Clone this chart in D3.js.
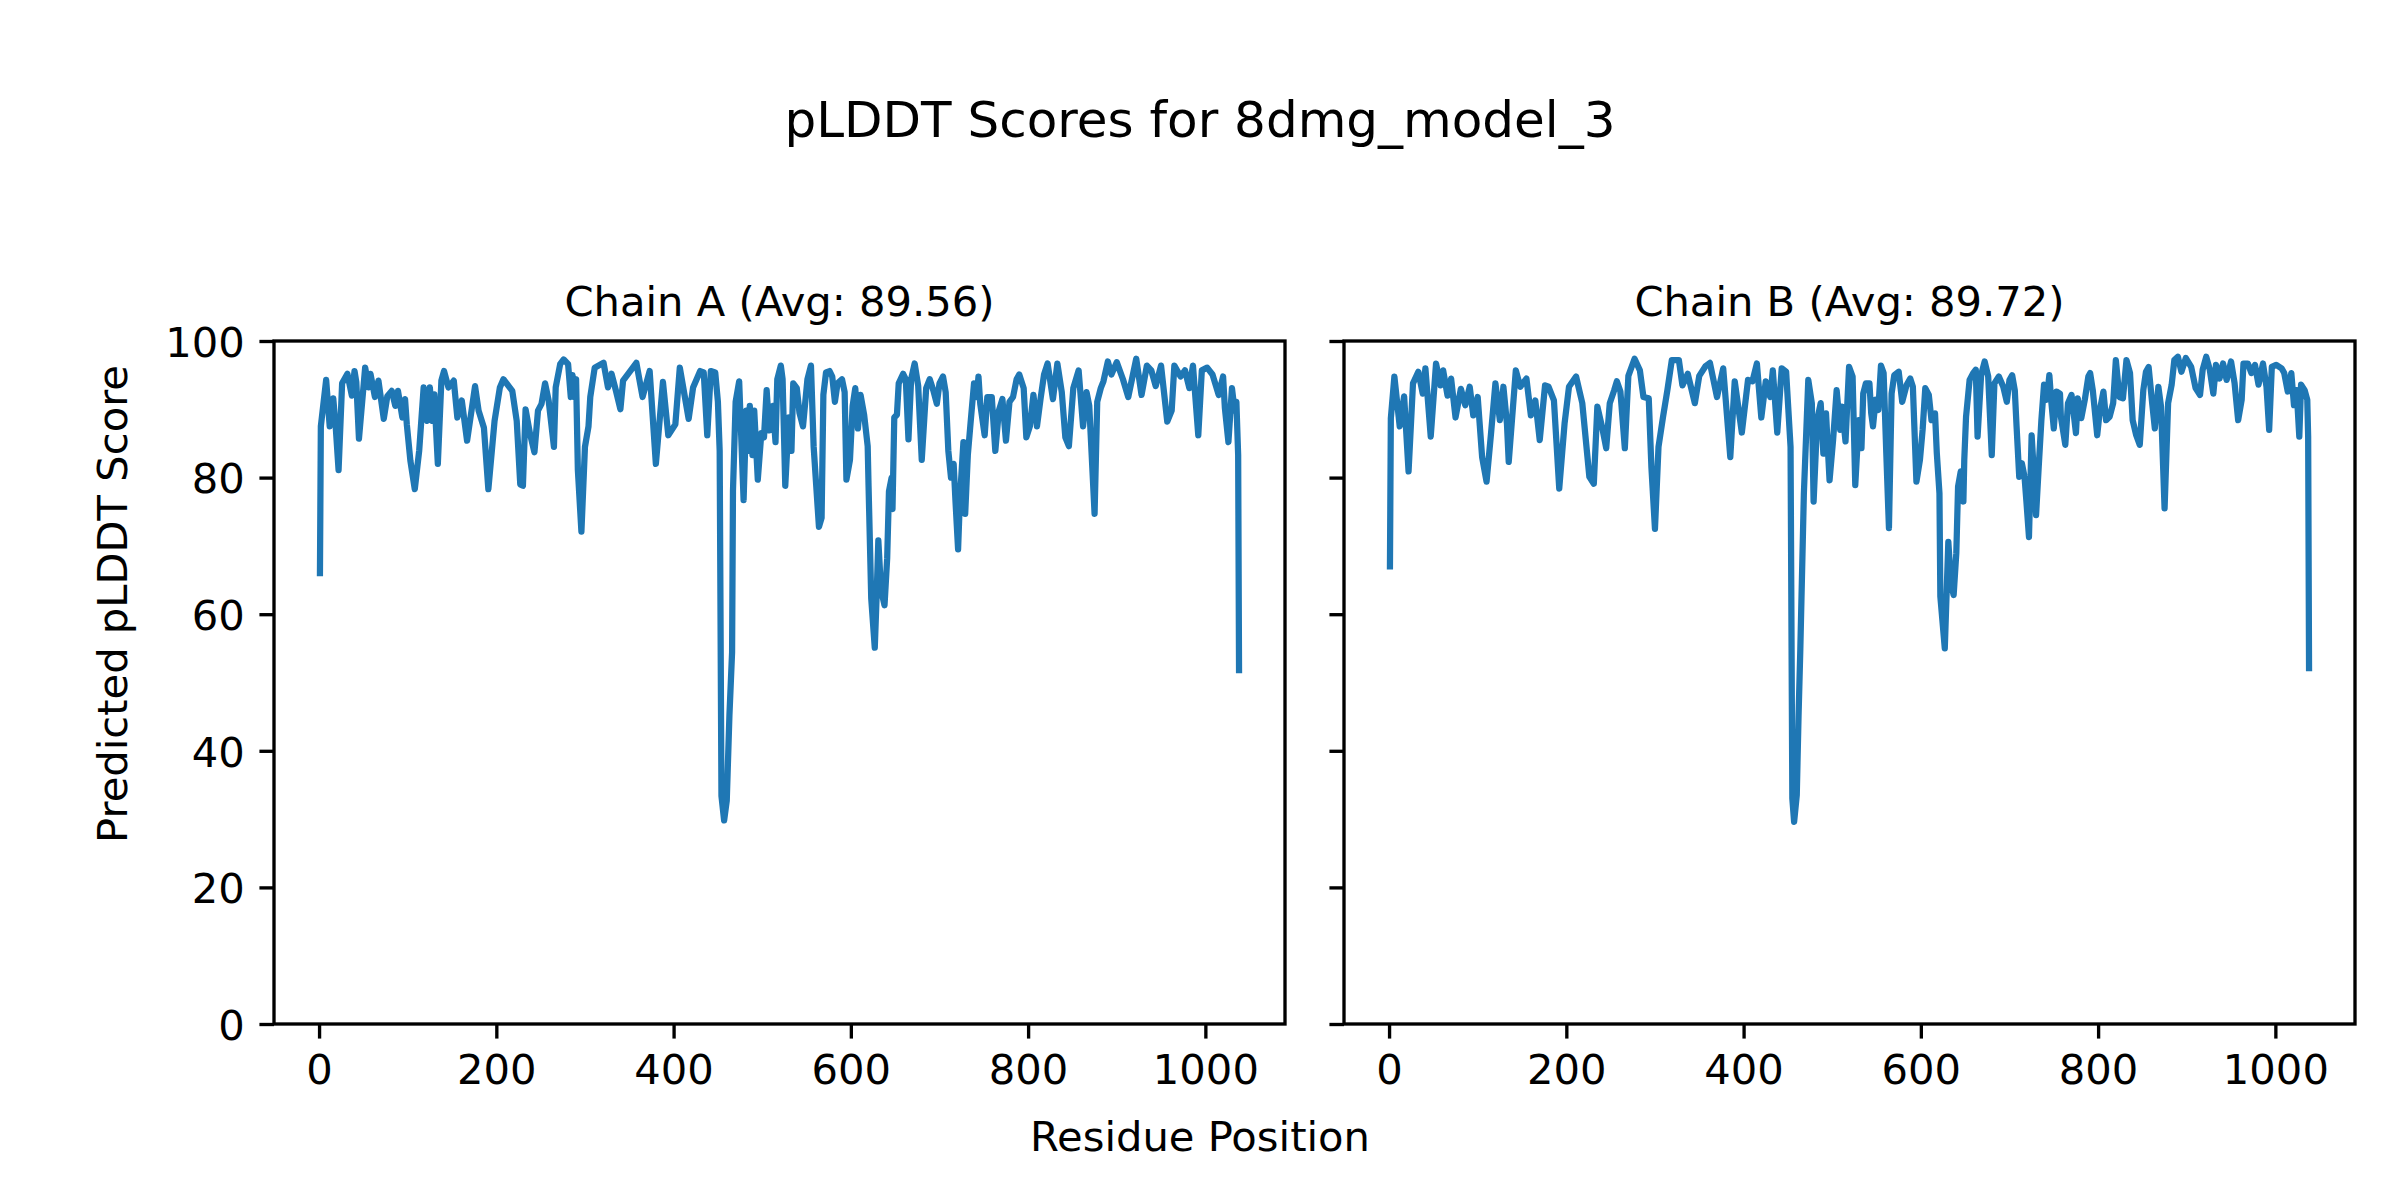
<!DOCTYPE html>
<html>
<head>
<meta charset="utf-8">
<script src="https://cdn.jsdelivr.net/npm/d3@7"></script>
<style>
  html, body { margin: 0; padding: 0; background: #fff; }
  svg { display: block; }
  text { font-family: "DejaVu Sans", sans-serif; fill: #000; }
</style>
</head>
<body>
<svg id="chart" width="2400" height="1200"></svg>
<script>
"use strict";

// residue positions / pLDDT
const posA = [1,2,8,12,16,19,22,26,32,37,40,42,45,52,56,58,63,67,73,77,82,86,89,94,97,99,103,108,113,118,122,125,128,130,134,138,141,146,152,156,161,167,172,176,180,186,191,198,204,208,218,223,227,230,233,238,243,247,251,255,259,265,267,272,276,281,284,286,288,290,292,296,300,304,306,311,321,326,330,335,340,343,350,358,365,373,380,388,394,402,407,417,422,430,434,438,442,447,450,452,454,457,460,463,466,467,470,474,479,482,484,486,489,491,495,499,502,505,508,512,515,517,521,523,526,530,533,535,539,542,546,551,555,558,564,567,569,572,576,579,582,585,590,593,595,599,602,605,608,611,615,619,620,623,627,629,631,634,638,641,643,646,647,649,652,654,659,662,665,668,672,676,680,685,689,693,697,700,704,707,710,713,716,718,721,723,727,729,732,735,739,742,744,746,751,754,759,763,767,771,775,779,783,787,790,795,798,802,806,810,814,818,822,828,833,838,842,846,851,857,862,866,869,875,878,882,885,890,894,900,907,913,922,928,934,939,944,950,957,962,965,972,977,982,986,992,996,1002,1008,1015,1020,1022,1026,1030,1033,1035,1037,1038];
const scoreA = [66.0,87.5,94.3,87.5,91.6,87.0,81.1,93.8,95.2,92.0,95.6,94.0,85.7,96.1,93.2,95.2,91.8,94.2,88.6,91.9,92.7,90.5,92.7,88.8,91.5,87.8,82.5,78.3,84.0,93.2,88.3,93.2,88.3,92.2,82.0,94.2,95.6,93.2,94.2,88.8,91.3,85.4,89.8,93.4,89.8,87.3,78.3,88.3,93.2,94.4,92.7,88.3,79.0,78.8,90.0,86.4,83.7,89.8,90.8,93.8,91.3,84.5,93.2,96.6,97.3,96.6,91.8,95.0,91.8,94.4,81.1,72.1,84.5,87.5,91.8,96.1,96.8,93.2,95.2,92.7,90.0,94.2,95.4,96.8,91.8,95.6,82.0,94.0,86.2,87.8,96.1,88.6,93.2,95.6,95.4,86.2,95.6,95.4,91.1,83.9,33.4,29.8,32.7,45.2,54.4,78.0,91.1,94.1,76.7,89.8,83.9,90.5,83.3,89.8,79.7,86.5,85.9,92.8,86.9,90.5,85.2,94.4,96.4,94.4,78.8,88.8,83.9,93.8,93.1,89.5,87.5,94.4,96.4,84.6,72.8,74.1,92.1,95.4,95.6,94.8,91.1,93.8,94.4,92.5,79.7,82.6,90.5,93.1,87.2,92.1,89.2,84.6,78.7,62.3,55.1,62.3,70.8,63.6,61.3,68.2,78.0,80.0,75.4,88.8,89.2,93.8,95.2,94.4,85.6,94.4,96.7,93.4,82.6,93.1,94.4,92.8,90.8,93.8,94.8,92.5,83.9,80.0,82.0,76.7,69.5,76.7,85.2,74.7,83.3,87.9,93.8,91.8,94.8,90.8,86.2,91.8,91.8,83.9,89.8,91.5,85.4,91.1,91.8,94.4,95.1,93.1,85.9,87.5,92.1,87.5,91.5,95.1,96.7,91.5,96.7,92.5,85.9,84.6,93.1,95.7,87.5,92.5,90.5,74.7,91.1,93.1,94.1,97.0,95.1,96.9,94.4,91.8,97.4,92.1,96.4,95.7,93.4,96.4,88.2,89.8,96.4,94.8,95.7,93.1,96.4,86.2,95.7,96.1,95.1,92.1,94.8,90.2,85.2,93.1,89.8,91.1,83.3,51.8];

const posB = [1,2,6,12,17,22,27,33,38,41,47,53,58,61,66,70,75,81,86,91,95,100,105,110,115,120,125,129,133,135,143,148,155,160,165,170,176,180,186,192,198,203,211,218,226,231,235,241,245,249,254,257,261,266,270,277,283,287,293,296,300,304,309,314,319,327,331,337,345,350,357,362,370,377,385,390,398,405,410,415,420,425,430,433,438,443,448,453,455,457,460,462,464,468,473,477,479,483,487,490,493,497,501,505,509,511,515,519,523,526,530,533,535,538,542,544,546,549,552,555,558,561,564,567,570,575,579,584,588,591,595,599,602,605,609,612,616,618,621,622,627,631,634,637,640,642,645,648,649,651,655,659,662,664,668,672,676,680,683,688,693,697,700,703,706,708,711,714,717,719,722,725,728,730,733,736,739,742,745,747,750,753,757,758,763,766,770,775,777,781,785,789,791,794,799,802,806,809,813,817,820,824,828,832,836,839,843,847,851,854,857,861,864,868,871,875,879,883,886,890,894,899,905,910,915,918,922,926,930,933,937,941,945,950,954,958,962,964,969,973,977,981,986,990,993,996,1001,1007,1010,1014,1018,1021,1024,1027,1029,1033,1036,1037,1038];
const scoreB = [67.0,88.7,94.8,87.5,91.9,80.9,93.8,95.5,92.3,96.0,86.0,96.7,93.5,95.7,92.0,94.5,88.8,93.0,90.6,93.3,89.1,91.8,83.0,79.4,86.4,93.8,88.4,93.3,87.9,82.3,95.7,93.3,94.5,89.1,91.3,85.5,93.5,93.3,91.3,78.4,87.9,93.3,94.8,90.9,80.1,79.1,90.4,87.0,84.3,90.9,92.8,94.1,92.6,84.3,94.9,97.4,95.7,91.8,91.6,81.5,72.5,84.5,88.8,92.8,97.2,97.2,93.5,95.2,90.9,94.9,96.3,96.8,91.8,96.0,83.0,94.1,86.6,94.3,94.1,96.7,88.8,94.1,91.8,95.7,86.6,96.0,95.5,84.5,33.0,29.6,33.5,45.0,54.8,77.6,94.3,90.9,76.5,88.4,90.9,83.5,89.4,79.6,85.5,92.8,87.0,90.4,85.3,96.2,94.8,78.9,88.4,84.3,92.3,93.8,93.8,89.4,87.5,91.4,89.9,96.4,95.3,83.6,72.6,92.3,95.0,95.5,91.1,93.6,94.5,93.3,79.4,82.6,87.0,93.1,92.1,88.4,89.4,83.6,77.7,62.6,55.0,70.6,64.5,62.8,68.9,78.7,80.9,76.5,82.6,88.9,94.3,95.3,95.8,86.0,95.0,97.0,94.8,83.3,93.8,94.8,93.3,91.1,94.3,95.0,92.8,87.5,80.1,82.1,80.1,76.7,71.3,86.2,79.6,74.5,81.6,88.4,93.6,91.4,95.0,91.4,87.2,92.6,92.3,88.9,84.8,90.9,92.1,86.5,91.6,88.7,91.4,94.8,95.3,92.8,86.2,89.9,92.6,88.4,88.9,90.9,97.2,91.8,91.6,97.2,95.3,88.4,86.2,84.8,92.8,95.5,96.2,90.9,87.2,93.3,90.4,75.5,90.9,93.6,97.2,97.7,95.5,97.5,96.2,93.1,92.1,95.8,97.7,95.8,92.3,96.5,94.5,96.7,94.3,97.0,93.8,88.4,91.4,96.7,96.7,95.3,96.5,93.6,96.7,93.3,87.0,96.2,96.5,96.0,95.3,92.6,95.3,90.6,92.8,86.0,93.6,92.8,91.4,86.0,52.1];

const chainTitles = ["Chain A (Avg: 89.56)", "Chain B (Avg: 89.72)"];
const xTicks = [0, 200, 400, 600, 800, 1000];
const yTicks = [0, 20, 40, 60, 80, 100];

var svg = d3.select("#chart");
var pt = 300 / 72;           // figure was 300 dpi
var fontPx = 10 * pt;
var plotTop = 341, plotBottom = 1024;
var panels = [
    {left: 274, right: 1285, pos: posA, score: scoreA, title: chainTitles[0], ylabels: true},
    {left: 1344, right: 2355, pos: posB, score: scoreB, title: chainTitles[1], ylabels: false}
];

svg.append("rect").attr("width", 2400).attr("height", 1200).attr("fill", "#fff");

function drawPanel(p, idx) {
    var ext = d3.extent(p.pos);
    var pad = (ext[1] - ext[0]) * 0.05;
    var x = d3.scaleLinear().domain([ext[0] - pad, ext[1] + pad]).range([p.left, p.right]);
    var y = d3.scaleLinear().domain([0, 100]).range([plotBottom, plotTop]);

    var g = svg.append("g").attr("class", "panel-" + idx);

    g.append("clipPath").attr("id", "clip" + idx)
      .append("rect")
      .attr("x", p.left).attr("y", plotTop)
      .attr("width", p.right - p.left).attr("height", plotBottom - plotTop);

    var data = p.pos.map(function (d, i) { return [d, p.score[i]]; });
    var line = d3.line()
        .x(function (d) { return x(d[0]); })
        .y(function (d) { return y(d[1]); });

    g.append("path")
      .datum(data)
      .attr("clip-path", "url(#clip" + idx + ")")
      .attr("d", line)
      .attr("fill", "none")
      .attr("stroke", "#1f77b4")
      .attr("stroke-width", 1.5 * pt)
      .attr("stroke-linejoin", "round")
      .attr("stroke-linecap", "square");

    var xAxis = d3.axisBottom(x).tickValues(xTicks).tickFormat(d3.format("d"))
        .tickSize(3.5 * pt).tickPadding(3.5 * pt).tickSizeOuter(0);
    var gx = g.append("g").attr("transform", "translate(0," + plotBottom + ")").call(xAxis);

    var yAxis = d3.axisLeft(y).tickValues(yTicks).tickFormat(d3.format("d"))
        .tickSize(3.5 * pt).tickPadding(3.5 * pt).tickSizeOuter(0);
    if (!p.ylabels) yAxis.tickFormat("");
    var gy = g.append("g").attr("transform", "translate(" + p.left + ",0)").call(yAxis);

    [gx, gy].forEach(function (a) {
        a.select(".domain").remove();
        a.attr("font-family", "DejaVu Sans").attr("font-size", fontPx);
        a.selectAll(".tick line").attr("stroke", "#000").attr("stroke-width", 0.8 * pt);
        a.selectAll(".tick text").attr("fill", "#000");
    });
    gx.selectAll(".tick text").attr("dy", "0.73em");
    gy.selectAll(".tick text").attr("dy", "0.365em");

    g.append("rect")
      .attr("x", p.left).attr("y", plotTop)
      .attr("width", p.right - p.left).attr("height", plotBottom - plotTop)
      .attr("fill", "none")
      .attr("stroke", "#000")
      .attr("stroke-width", 0.8 * pt);

    g.append("text")
      .attr("x", (p.left + p.right) / 2)
      .attr("y", plotTop - 6 * pt)
      .attr("text-anchor", "middle")
      .attr("font-size", fontPx)
      .text(p.title);
}

panels.forEach(drawPanel);

svg.append("text")
  .attr("x", 1200).attr("y", 137)
  .attr("text-anchor", "middle")
  .attr("font-size", 12 * pt)
  .text("pLDDT Scores for 8dmg_model_3");

svg.append("text")
  .attr("x", 1200).attr("y", 1151)
  .attr("text-anchor", "middle")
  .attr("font-size", fontPx)
  .text("Residue Position");

svg.append("text")
  .attr("transform", "translate(126.5,604) rotate(-90)")
  .attr("text-anchor", "middle")
  .attr("font-size", fontPx)
  .text("Predicted pLDDT Score");
</script>
</body>
</html>
